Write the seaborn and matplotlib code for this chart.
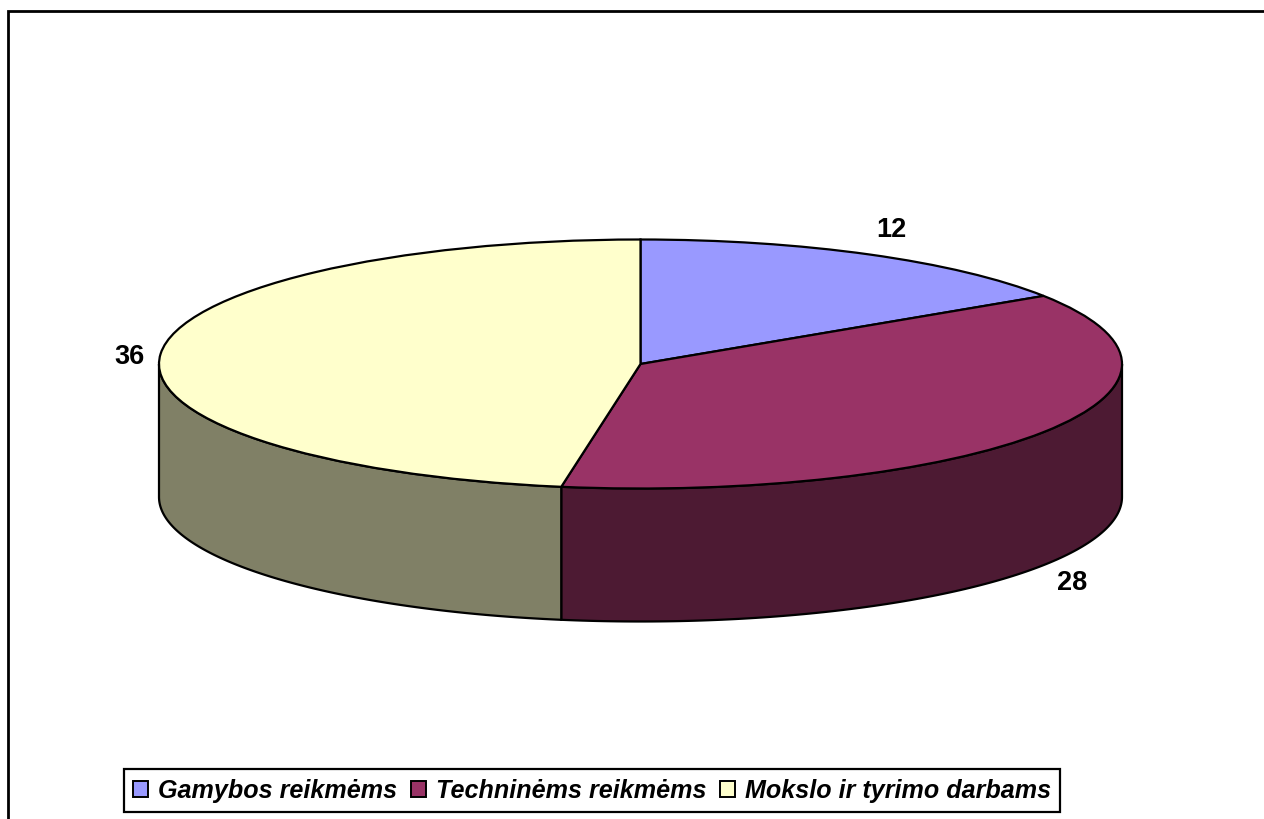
import numpy as np
import matplotlib
matplotlib.use("Agg")
import matplotlib.pyplot as plt
from matplotlib.patches import Rectangle
import seaborn as sns

categories = ["Gamybos reikmėms", "Techninėms reikmėms", "Mokslo ir tyrimo darbams"]
values = [12, 28, 36]
top_colors = ["#9999FF", "#993366", "#FFFFCC"]

# layout of the tilted disc, in pixels of the 1264x820 picture
W, H = 1264, 820
CX, CY = 640.5, 365
RX, RY = 481.5, 124.5
DEPTH = 133

sns.set_theme(style="white")
plt.rcParams["font.family"] = ["Liberation Sans", "DejaVu Sans"]
plt.rcParams["text.color"] = "black"
plt.rcParams["legend.labelcolor"] = "black"
palette = sns.color_palette(top_colors)

fig = plt.figure(figsize=(W / 100, H / 100), dpi=100, facecolor="white")
ax = fig.add_axes([0, 0, 1, 1])


def px(x, y):
    # picture pixels to data units (disc radius = 1)
    return (x - CX) / RX, (CY - y) / RY


# rim first, so that the top face lies over it
drop = DEPTH / RY
edges = np.cumsum([0] + values) / sum(values) * 2 * np.pi
for i, color in enumerate(palette):
    start, end = max(edges[i], np.pi / 2), min(edges[i + 1], 3 * np.pi / 2)
    if start >= end:
        continue
    t = np.linspace(start, end, 120)
    xs = np.r_[np.sin(t), np.sin(t)[::-1]]
    ys = np.r_[np.cos(t), np.cos(t)[::-1] - drop]
    ax.fill(xs, ys, facecolor=tuple(c * 0.5 for c in color), edgecolor="black", linewidth=1.6)

wedges, _ = ax.pie(
    values,
    colors=palette,
    startangle=90,
    counterclock=False,
    radius=1,
    wedgeprops={"edgecolor": "black", "linewidth": 1.6},
)
ax.set_aspect("auto")
ax.set_xlim(px(0, 0)[0], px(W, 0)[0])
ax.set_ylim(px(0, H)[1], px(0, 0)[1])
ax.axis("off")

label_pos = [(891, 230), (1072, 583), (129, 357)]
for value, pos in zip(values, label_pos):
    ax.text(*px(*pos), str(value), ha="center", va="center",
            fontsize=19.5, fontweight="bold", color="black")

leg = ax.legend(
    wedges, categories,
    ncol=3,
    loc="center",
    bbox_to_anchor=((123 + 1061) / 2 / W, 1 - 791.5 / H),
    bbox_transform=fig.transFigure,
    frameon=True,
    fancybox=False,
    framealpha=1,
    edgecolor="black",
    handlelength=0.6,
    handleheight=0.6,
    handletextpad=0.38,
    columnspacing=0.55,
    borderpad=0.38,
    prop={"size": 18.1, "weight": "bold", "style": "italic"},
)
leg.get_frame().set_linewidth(1.6)
for handle in leg.legend_handles:
    handle.set_linewidth(1.4)

# chart area border
fig.add_artist(Rectangle((8 / W, -0.01), 1.2, 1 - 12 / H + 0.01, transform=fig.transFigure,
                         fill=False, edgecolor="black", linewidth=2.0))

fig.savefig("out.png", dpi=100)
